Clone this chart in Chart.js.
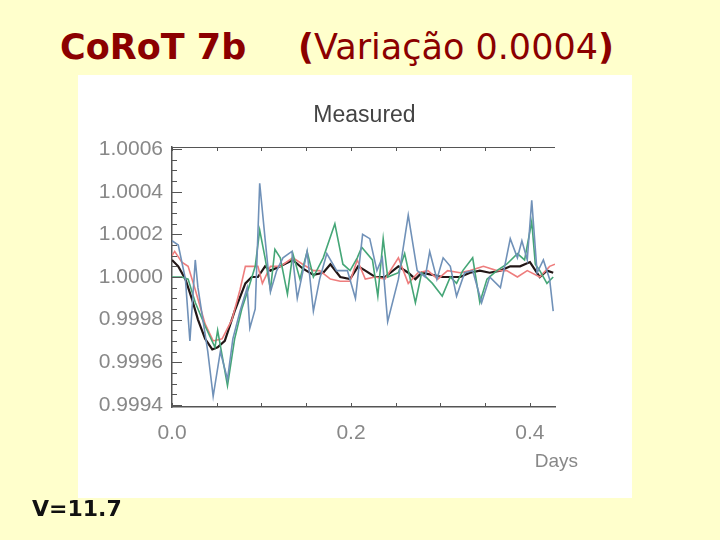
<!DOCTYPE html>
<html>
<head>
<meta charset="utf-8">
<script src="https://cdn.jsdelivr.net/npm/chart.js@4.4.0/dist/chart.umd.min.js"></script>
<style>
  body { margin: 0; width: 720px; height: 540px; background: #ffffcc; position: relative; overflow: hidden; }
  .title { position: absolute; top: 27px; font-family: "DejaVu Sans", sans-serif; font-size: 35px; color: #8b0000; white-space: nowrap; }
  .mag { position: absolute; left: 32px; top: 496px; font-family: "DejaVu Sans", sans-serif; font-weight: bold; font-size: 22px; color: #111; }
  .box { position: absolute; left: 78px; top: 75px; width: 554px; height: 423px; background: #fff; }
</style>
</head>
<body>
<div class="title" style="left:60px;font-weight:bold">CoRoT 7b</div>
<div class="title" style="left:298px"><b>(</b>Variação 0.0004<b>)</b></div>
<div class="box"><canvas id="c" width="554" height="423"></canvas></div>
<div class="mag">V=11.7</div>
<script>
// light curves around the transit, time in days, relative flux
const blueDays = [0, 0.007, 0.015, 0.020, 0.026, 0.029, 0.040, 0.046, 0.054, 0.062, 0.068, 0.076, 0.084, 0.087, 0.093, 0.098,
  0.104, 0.110, 0.117, 0.124, 0.134, 0.140, 0.151, 0.158, 0.165, 0.173, 0.184, 0.196, 0.205, 0.213, 0.221, 0.229,
  0.235, 0.241, 0.253, 0.264, 0.274, 0.283, 0.288, 0.296, 0.303, 0.311, 0.318, 0.327, 0.336, 0.346, 0.355, 0.367,
  0.378, 0.386, 0.391, 0.397, 0.402, 0.408, 0.415, 0.422, 0.426];
const blueFlux = [1.00017, 1.00015, 0.99999, 0.99970, 1.00008, 0.99995, 0.99965, 0.99944, 0.99965, 0.99952, 0.99971, 0.99984, 0.99995, 0.99976, 0.99985, 1.00044,
  1.00018, 0.99993, 1.00003, 1.00009, 1.00012, 0.99990, 1.00012, 0.99984, 0.99999, 1.00011, 1.00003, 1.00003, 0.99990, 1.00020, 1.00018, 1.00003,
  1.00009, 0.99979, 0.99999, 1.00029, 1.00003, 1.00000, 1.00012, 0.99999, 1.00009, 1.00005, 0.99991, 1.00002, 1.00003, 0.99988, 1.00000, 0.99995,
  1.00018, 1.00009, 1.00017, 1.00008, 1.00036, 1.00002, 1.00008, 0.99999, 0.99984];

const greenDays = [0, 0.011, 0.018, 0.026, 0.037, 0.048, 0.051, 0.062, 0.070, 0.078, 0.085, 0.093, 0.098, 0.104, 0.110, 0.115,
  0.121, 0.129, 0.135, 0.143, 0.151, 0.158, 0.169, 0.182, 0.191, 0.199, 0.207, 0.212, 0.224, 0.230, 0.236, 0.241,
  0.253, 0.260, 0.272, 0.279, 0.291, 0.302, 0.311, 0.318, 0.325, 0.336, 0.344, 0.352, 0.363, 0.374, 0.386, 0.394,
  0.402, 0.406, 0.411, 0.419, 0.426];
const greenFlux = [1.00000, 1.00000, 0.99999, 0.99988, 0.99977, 0.99967, 0.99975, 0.99949, 0.99971, 0.99985, 0.99994, 1.00005, 1.00022, 1.00009, 0.99994, 1.00013,
  1.00009, 0.99992, 1.00011, 0.99999, 1.00012, 1.00000, 1.00009, 1.00025, 1.00006, 1.00003, 1.00009, 1.00014, 1.00008, 0.99991, 1.00018, 1.00000,
  1.00002, 1.00011, 0.99988, 1.00002, 0.99997, 0.99991, 1.00000, 0.99997, 1.00003, 1.00009, 0.99988, 0.99999, 1.00003, 1.00006, 1.00011, 1.00008,
  1.00026, 1.00006, 1.00003, 0.99997, 1.00000];

const redDays = [0, 0.003, 0.011, 0.018, 0.026, 0.037, 0.046, 0.056, 0.067, 0.076, 0.082, 0.089, 0.096, 0.101, 0.110, 0.121,
  0.135, 0.146, 0.158, 0.165, 0.177, 0.188, 0.199, 0.207, 0.216, 0.227, 0.238, 0.253, 0.264, 0.275, 0.286, 0.297,
  0.308, 0.322, 0.333, 0.348, 0.363, 0.374, 0.386, 0.397, 0.411, 0.422, 0.428];
const redFlux = [1.00010, 1.00012, 1.00007, 1.00005, 0.99994, 0.99978, 0.99970, 0.99971, 0.99980, 0.99994, 1.00005, 1.00005, 1.00005, 0.99997, 1.00005, 1.00005,
  1.00009, 1.00006, 1.00003, 1.00003, 0.99999, 0.99998, 0.99998, 1.00008, 0.99999, 1.00000, 0.99999, 1.00009, 0.99997, 1.00002, 1.00003, 0.99999,
  1.00003, 1.00002, 1.00003, 1.00005, 1.00003, 1.00003, 1.00000, 1.00003, 1.00000, 1.00005, 1.00006];

const blackDays = [0, 0.007, 0.015, 0.022, 0.029, 0.037, 0.045, 0.051, 0.059, 0.070, 0.082, 0.089, 0.096, 0.104, 0.110, 0.121,
  0.135, 0.146, 0.158, 0.169, 0.177, 0.188, 0.199, 0.208, 0.216, 0.227, 0.238, 0.253, 0.264, 0.272, 0.279, 0.291,
  0.302, 0.313, 0.322, 0.333, 0.344, 0.355, 0.367, 0.378, 0.389, 0.400, 0.411, 0.419, 0.426];
const blackFlux = [1.00008, 1.00005, 0.99999, 0.99990, 0.99980, 0.99971, 0.99966, 0.99967, 0.99970, 0.99984, 0.99997, 1.00000, 1.00000, 1.00005, 1.00003, 1.00005,
  1.00008, 1.00004, 1.00001, 1.00002, 1.00006, 1.00000, 0.99999, 1.00005, 1.00003, 1.00000, 1.00000, 1.00005, 1.00002, 0.99999, 1.00002, 1.00001,
  1.00000, 1.00000, 1.00000, 1.00002, 1.00003, 1.00002, 1.00003, 1.00005, 1.00005, 1.00007, 1.00000, 1.00003, 1.00002];

const xTicks = [0.0, 0.2, 0.4];
const yTicks = [0.9994, 0.9996, 0.9998, 1.0000, 1.0002, 1.0004, 1.0006];

const toPoints = (days, flux) => days.map((d, i) => ({ x: d, y: flux[i] }));

const line = (label, days, flux, color, width) => ({
  label,
  data: toPoints(days, flux),
  borderColor: color,
  borderWidth: width,
  pointRadius: 0,
  tension: 0,
  fill: false
});

// inward tick marks, top frame line and the two captions
const frame = {
  id: 'frame',
  afterDraw(chart) {
    const { ctx, chartArea: a, scales: { x, y } } = chart;
    ctx.save();
    ctx.strokeStyle = '#555';
    ctx.lineWidth = 1;
    ctx.beginPath();
    ctx.moveTo(a.left, a.top + 0.5);
    ctx.lineTo(a.right, a.top + 0.5);
    for (let v = 0; v <= 0.426; v += 0.05) {
      const px = Math.round(x.getPixelForValue(v)) + 0.5;
      ctx.moveTo(px, a.bottom); ctx.lineTo(px, a.bottom - 4);
      ctx.moveTo(px, a.top); ctx.lineTo(px, a.top + 4);
    }
    for (let i = 0; i <= 24; i++) {
      const py = Math.round(y.getPixelForValue(0.9994 + i * 0.00005)) + 0.5;
      ctx.moveTo(a.left, py); ctx.lineTo(a.left + (i % 4 === 0 ? 10 : 5), py);
    }
    ctx.stroke();

    ctx.fillStyle = '#444';
    ctx.font = '23px "Liberation Sans", sans-serif';
    ctx.textAlign = 'center';
    ctx.textBaseline = 'middle';
    ctx.fillText('Measured', (a.left + a.right) / 2 + 1, a.top - 31);
    ctx.fillStyle = '#888';
    ctx.font = '19px "Liberation Sans", sans-serif';
    ctx.textAlign = 'right';
    ctx.fillText('Days', a.right + 23, a.bottom + 55);
    ctx.restore();
  }
};

const tickFont = { family: '"Liberation Sans", sans-serif', size: 21 };

new Chart(document.getElementById('c'), {
  type: 'line',
  data: {
    datasets: [
      line('blue', blueDays, blueFlux, '#7091b8', 1.6),
      line('green', greenDays, greenFlux, '#45a677', 1.6),
      line('red', redDays, redFlux, '#ee7d7d', 1.6),
      line('mean', blackDays, blackFlux, '#221616', 2.2)
    ]
  },
  options: {
    responsive: false,
    animation: false,
    layout: { padding: { left: 0, top: 72, right: 77, bottom: 0 } },
    plugins: { legend: { display: false }, tooltip: { enabled: false } },
    scales: {
      x: {
        type: 'linear',
        min: 0,
        max: 0.428,
        afterFit: (s) => { s.height = 91; },
        afterBuildTicks: (s) => { s.ticks = xTicks.map(v => ({ value: v })); },
        grid: { display: false, drawTicks: false },
        border: { color: '#555', width: 1.5 },
        ticks: { color: '#888', font: tickFont, padding: 14, maxRotation: 0, callback: v => v.toFixed(1) }
      },
      y: {
        min: 0.99939,
        max: 1.00061,
        afterFit: (s) => { s.width = 94; },
        afterBuildTicks: (s) => { s.ticks = yTicks.map(v => ({ value: v })); },
        grid: { display: false, drawTicks: false },
        border: { color: '#555', width: 1.5 },
        ticks: { color: '#888', font: tickFont, padding: 9, callback: v => v.toFixed(4) }
      }
    }
  },
  plugins: [frame]
});
</script>
</body>
</html>
